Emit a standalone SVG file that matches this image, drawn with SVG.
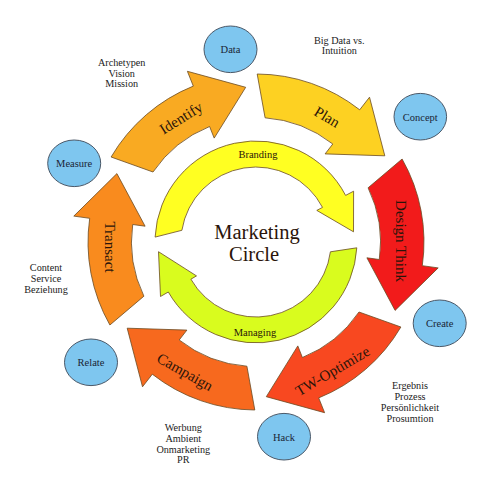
<svg xmlns="http://www.w3.org/2000/svg" width="500" height="500" viewBox="0 0 500 500">
<style>
.arr{stroke:#6a4a22;stroke-width:0.8;stroke-linejoin:miter}
.lbl{font-family:"Liberation Serif","DejaVu Serif",serif;fill:#2a140a;text-anchor:middle}
.big{font-size:15px}
.node ellipse{fill:#7EC6EF;stroke:#4a5868;stroke-width:1}
.node text{font-family:"Liberation Serif","DejaVu Serif",serif;font-size:10.5px;fill:#1a2535;text-anchor:middle}
.note{font-family:"Liberation Serif","DejaVu Serif",serif;font-size:10.2px;fill:#222;text-anchor:middle}
</style>
<rect width="500" height="500" fill="#fff"/>
<g id="connectors">
  <g id="identify">
    <path class="arr" fill="#F9AA22" d="M111.1,157.0 A168,168 0 0 1 193.3,86.1 L187.4,71.3 L245.7,87.3 L214.2,138.1 L209.6,126.5 A124.5,124.5 0 0 0 153.0,172.0 Z"/>
    <text class="lbl big" transform="translate(181,118) rotate(-32)" y="5">Identify</text>
  </g>
  <g id="plan">
    <path class="arr" fill="#FDD122" d="M257.2,74.0 A168,168 0 0 1 359.7,109.8 L369.5,97.2 L384.8,155.8 L325.1,153.9 L332.8,144.0 A124.5,124.5 0 0 0 265.1,117.8 Z"/>
    <text class="lbl big" transform="translate(327,117) rotate(31)" y="5">Plan</text>
  </g>
  <g id="design-think">
    <path class="arr" fill="#F21B1B" d="M402.1,159.0 A168,168 0 0 1 422.3,265.7 L438.2,267.9 L395.1,310.4 L366.9,257.8 L379.3,259.5 A124.5,124.5 0 0 0 368.1,187.8 Z"/>
    <text class="lbl big" transform="translate(401,241) rotate(90)" y="5">Design Think</text>
  </g>
  <g id="tw-optimize">
    <path class="arr" fill="#F84820" d="M400.9,327.0 A168,168 0 0 1 318.7,397.9 L324.6,412.7 L266.3,396.7 L297.8,345.9 L302.4,357.5 A124.5,124.5 0 0 0 359.0,312.0 Z"/>
    <text class="lbl big" transform="translate(332.5,371) rotate(-30.5)" y="5">TW-Optimize</text>
  </g>
  <g id="campaign">
    <path class="arr" fill="#F7691E" d="M254.8,410.0 A168,168 0 0 1 152.3,374.2 L142.5,386.8 L127.2,328.2 L186.9,330.1 L179.2,340.0 A124.5,124.5 0 0 0 246.9,366.2 Z"/>
    <text class="lbl big" transform="translate(185,372) rotate(29.5)" y="5">Campaign</text>
  </g>
  <g id="transact">
    <path class="arr" fill="#F98B1E" d="M109.9,325.0 A168,168 0 0 1 89.7,218.3 L73.8,216.1 L116.9,173.6 L145.1,226.2 L132.7,224.5 A124.5,124.5 0 0 0 143.9,296.2 Z"/>
    <text class="lbl big" transform="translate(110,247) rotate(90)" y="5">Transact</text>
  </g>
  <g id="branding">
    <path class="arr" fill="#FFFF22" stroke="#6f6a20" d="M155.1,237.1 A101,101 0 0 1 345.6,195.4 L353.6,191.2 L353.5,231.8 L316.8,210.4 L322.5,207.4 A75,75 0 0 0 181.9,230.3 Z"/>
    <text class="lbl" font-size="10.5" x="258" y="158">Branding</text>
  </g>
  <g id="managing">
    <path class="arr" fill="#D9FC1E" stroke="#6f6a20" d="M356.8,247.8 A101,101 0 0 1 168.3,292.0 L160.5,296.5 L158.5,251.7 L196.5,275.9 L190.9,279.2 A75,75 0 0 0 330.4,251.8 Z"/>
    <text class="lbl" font-size="10.5" x="255" y="336">Managing</text>
  </g>
</g>
<g id="center">
  <text class="lbl" font-size="20.5" fill="#111" x="257" y="239">Marketing</text>
  <text class="lbl" font-size="20.5" fill="#111" x="254" y="261">Circle</text>
</g>
<g id="data" class="node"><ellipse cx="230.5" cy="49.3" rx="26.5" ry="23.3"/><text x="230.5" y="53">Data</text></g>
<g id="concept" class="node"><ellipse cx="420.3" cy="116.7" rx="26.3" ry="23.3"/><text x="420.3" y="120.5">Concept</text></g>
<g id="create" class="node"><ellipse cx="439.7" cy="323.3" rx="26.5" ry="23.3"/><text x="439.7" y="327">Create</text></g>
<g id="hack" class="node"><ellipse cx="284" cy="436.7" rx="26.5" ry="23.3"/><text x="284" y="440.5">Hack</text></g>
<g id="relate" class="node"><ellipse cx="91" cy="362.3" rx="26.5" ry="23.3"/><text x="91" y="366">Relate</text></g>
<g id="measure" class="node"><ellipse cx="74.2" cy="163.3" rx="26.5" ry="23.3"/><text x="74.2" y="167">Measure</text></g>
<g id="notes">
  <text class="note" x="121.7" y="66">Archetypen</text>
  <text class="note" x="121.7" y="77">Vision</text>
  <text class="note" x="121.7" y="87">Mission</text>
  <text class="note" x="339.3" y="43.5">Big Data vs.</text>
  <text class="note" x="339.3" y="54">Intuition</text>
  <text class="note" x="46" y="271">Content</text>
  <text class="note" x="46" y="282">Service</text>
  <text class="note" x="46" y="293">Beziehung</text>
  <text class="note" x="183.3" y="431">Werbung</text>
  <text class="note" x="183.3" y="441.5">Ambient</text>
  <text class="note" x="183.3" y="452.5">Onmarketing</text>
  <text class="note" x="183.3" y="463">PR</text>
  <text class="note" x="410" y="389">Ergebnis</text>
  <text class="note" x="410" y="400">Prozess</text>
  <text class="note" x="410" y="411">Persönlichkeit</text>
  <text class="note" x="410" y="422">Prosumtion</text>
</g>
</svg>
